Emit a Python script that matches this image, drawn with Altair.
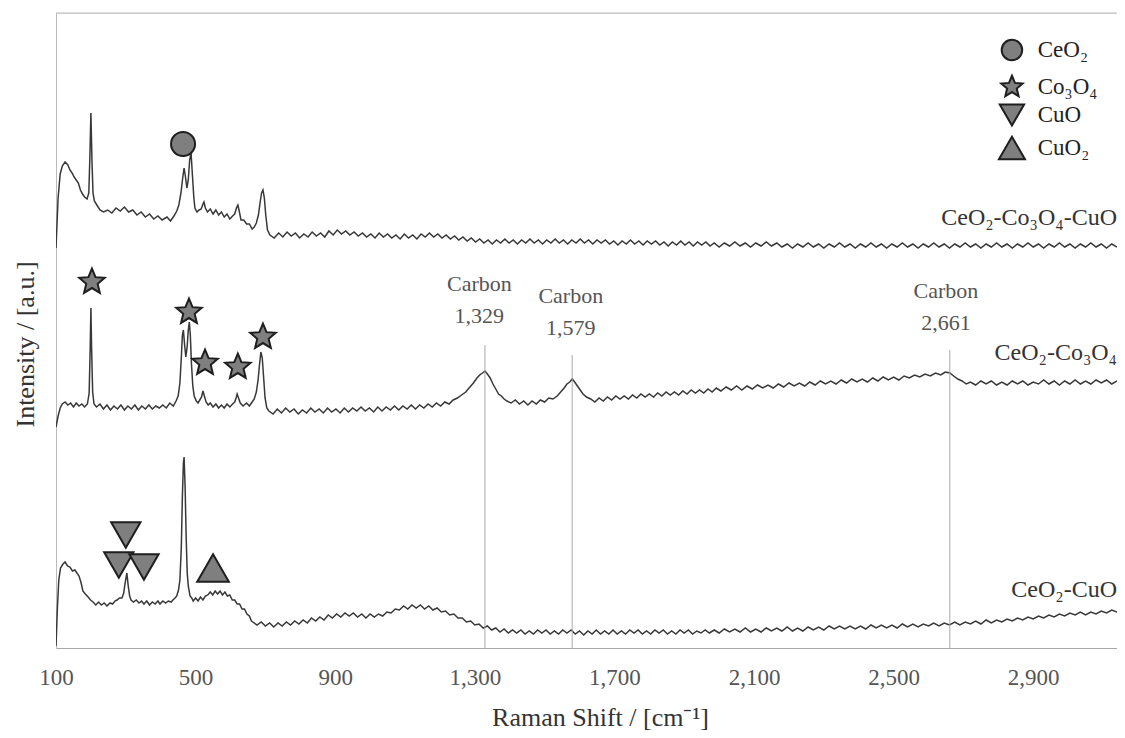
import altair as alt
import pandas as pd

FONT = "Liberation Serif"

series_names = ["CeO₂-Co₃O₄-CuO", "CeO₂-Co₃O₄", "CeO₂-CuO"]

top_pts = [[100,400],[106,450],[112,474],[118,482],[126,486],[134,483],[140,478],[146,475],[152,471],[158,468],[164,465],[170,458],[176,454],[182,451],[189,449],[194,455],[197,490],[200,535],[203,488],[206,455],[210,447],[217,443],[226,438],[236,436],[248,438],[260,435],[272,440],[284,437],[296,441],[308,436],[320,438],[332,433],[344,436],[356,431],[368,434],[380,429],[392,432],[404,428],[418,431],[428,427],[438,432],[446,437],[452,443],[458,455],[463,470],[467,480],[471,471],[475,460],[479,468],[483,488],[487,495],[491,472],[495,450],[498,440],[504,436],[510,438],[516,439],[520,443],[524,446],[528,440],[534,436],[542,439],[550,434],[558,438],[566,433],[574,436],[582,431],[590,434],[598,429],[606,432],[612,434],[617,440],[621,443],[625,437],[630,428],[638,428],[646,424],[654,424],[662,419],[668,421],[674,425],[680,433],[685,446],[689,455],[693,458],[697,450],[701,433],[706,418],[713,413],[725,410],[738,415],[750,411],[762,416],[774,412],[786,415],[798,410],[810,414],[822,411],[834,416],[846,412],[858,415],[870,411],[882,417],[894,413],[906,418],[918,414],[930,417],[942,413],[954,416],[966,412],[978,415],[990,411],[1002,414],[1014,410],[1026,415],[1038,411],[1050,414],[1062,410],[1074,413],[1086,409],[1098,414],[1110,410],[1122,413],[1134,409],[1146,414],[1158,411],[1170,415],[1182,411],[1194,414],[1206,410],[1218,413],[1230,409],[1242,412],[1254,408],[1266,411],[1278,407],[1290,410],[1302,406],[1314,409],[1326,405],[1338,408],[1350,404],[1362,408],[1374,405],[1386,409],[1398,405],[1410,408],[1422,404],[1434,408],[1446,405],[1458,409],[1470,405],[1482,408],[1494,404],[1506,408],[1518,405],[1530,409],[1542,405],[1554,408],[1566,404],[1578,408],[1590,405],[1602,409],[1614,405],[1626,408],[1638,404],[1650,408],[1662,405],[1674,408],[1686,404],[1698,407],[1710,403],[1722,407],[1734,404],[1746,408],[1758,404],[1770,407],[1782,403],[1794,407],[1806,404],[1818,407],[1830,403],[1842,406],[1854,402],[1866,406],[1878,403],[1890,407],[1902,403],[1914,406],[1926,402],[1938,406],[1950,403],[1962,406],[1974,402],[1986,405],[2000,401],[2015,405],[2030,402],[2045,406],[2060,402],[2075,405],[2090,401],[2105,405],[2120,402],[2135,406],[2150,402],[2165,405],[2180,401],[2195,404],[2210,400],[2225,404],[2240,401],[2255,405],[2270,401],[2285,404],[2300,400],[2315,404],[2330,401],[2345,405],[2360,401],[2375,404],[2390,400],[2405,404],[2420,401],[2435,405],[2450,401],[2465,404],[2480,400],[2495,404],[2510,401],[2525,405],[2540,401],[2555,404],[2570,400],[2585,404],[2600,401],[2615,405],[2630,401],[2645,404],[2660,400],[2675,404],[2690,401],[2705,405],[2720,401],[2735,404],[2750,400],[2765,404],[2780,401],[2795,405],[2810,401],[2825,404],[2840,400],[2855,404],[2870,401],[2885,405],[2900,401],[2915,404],[2930,400],[2945,404],[2960,401],[2975,405],[2990,401],[3005,404],[3020,400],[3035,404],[3050,401],[3065,405],[3080,401],[3095,404],[3110,400],[3125,404],[3140,401]]

mid_pts = [[100,221],[106,232],[112,240],[118,244],[126,246],[134,243],[142,245],[150,241],[158,245],[166,242],[174,244],[182,241],[190,244],[195,255],[198,300],[200,340],[202,300],[205,256],[209,244],[216,241],[226,244],[236,239],[246,243],[256,238],[266,242],[276,239],[286,243],[296,238],[306,242],[316,239],[326,243],[336,238],[346,242],[356,239],[366,243],[376,239],[386,242],[396,240],[406,243],[416,240],[426,245],[436,242],[444,247],[450,252],[455,265],[459,290],[462,312],[465,318],[468,305],[472,291],[476,302],[479,318],[482,326],[485,312],[488,285],[492,262],[496,252],[502,247],[507,245],[512,248],[517,251],[521,257],[525,252],[530,246],[536,243],[542,245],[550,241],[558,244],[566,240],[574,243],[582,240],[590,244],[598,241],[606,244],[612,246],[616,250],[619,254],[623,250],[628,245],[636,242],[646,245],[654,242],[662,246],[668,249],[674,256],[679,268],[683,283],[687,296],[691,290],[695,270],[699,250],[704,240],[710,237],[722,234],[734,239],[746,235],[758,240],[770,236],[782,239],[794,234],[806,238],[818,235],[830,240],[842,236],[854,239],[866,235],[878,240],[890,236],[902,239],[914,235],[926,240],[938,236],[950,240],[962,237],[974,241],[986,237],[998,240],[1010,236],[1022,241],[1034,237],[1046,241],[1058,238],[1070,242],[1082,238],[1094,242],[1106,239],[1118,243],[1130,239],[1142,243],[1154,240],[1166,244],[1178,241],[1190,245],[1202,242],[1214,246],[1226,244],[1238,248],[1250,250],[1262,253],[1274,256],[1286,261],[1296,265],[1306,270],[1314,273],[1322,275],[1329,277],[1336,274],[1344,270],[1352,264],[1360,259],[1368,254],[1376,252],[1384,249],[1392,247],[1404,245],[1416,248],[1428,244],[1440,247],[1452,243],[1464,247],[1476,244],[1488,248],[1500,246],[1512,250],[1524,249],[1536,252],[1546,256],[1556,260],[1564,264],[1572,266],[1579,269],[1586,266],[1594,262],[1602,258],[1610,254],[1620,251],[1632,249],[1644,246],[1656,250],[1668,247],[1680,251],[1692,248],[1704,252],[1716,249],[1728,252],[1740,249],[1752,253],[1764,250],[1776,254],[1788,251],[1800,254],[1812,251],[1824,255],[1836,252],[1848,256],[1860,253],[1872,256],[1884,253],[1896,257],[1908,254],[1920,258],[1932,255],[1944,258],[1956,255],[1968,259],[1980,256],[1992,260],[2005,257],[2020,261],[2035,258],[2050,262],[2065,258],[2080,262],[2095,259],[2110,263],[2125,260],[2140,263],[2155,260],[2170,264],[2185,261],[2200,265],[2215,262],[2230,265],[2245,262],[2260,266],[2275,263],[2290,267],[2305,264],[2320,267],[2335,264],[2350,268],[2365,265],[2380,269],[2395,266],[2410,269],[2425,266],[2440,270],[2455,267],[2470,271],[2485,268],[2500,271],[2515,268],[2530,272],[2545,270],[2560,273],[2575,271],[2590,274],[2605,272],[2620,275],[2635,273],[2648,276],[2661,275],[2672,272],[2684,269],[2696,267],[2708,264],[2720,266],[2735,263],[2750,267],[2765,264],[2780,267],[2795,263],[2810,266],[2825,263],[2840,267],[2855,264],[2870,267],[2885,263],[2900,266],[2915,264],[2930,268],[2945,264],[2960,267],[2975,263],[2990,267],[3005,264],[3020,268],[3035,264],[3050,267],[3065,264],[3080,268],[3095,265],[3110,268],[3125,264],[3140,267]]

bot_pts = [[100,2],[104,40],[108,68],[113,80],[120,84],[126,86],[133,82],[140,81],[147,77],[154,78],[160,75],[166,72],[172,65],[177,57],[184,54],[192,51],[199,48],[206,46],[214,43],[222,46],[230,43],[238,45],[246,42],[255,45],[262,44],[269,47],[275,48],[282,50],[289,50],[294,55],[298,65],[303,75],[307,62],[311,52],[315,48],[322,46],[330,48],[338,45],[345,47],[352,44],[360,47],[368,43],[376,46],[384,44],[392,47],[398,44],[406,47],[414,45],[422,47],[430,46],[435,48],[441,50],[446,52],[451,58],[455,68],[459,100],[462,150],[465,185],[467,191],[470,160],[473,110],[476,75],[479,62],[484,52],[489,50],[493,47],[500,50],[507,47],[514,51],[521,48],[528,52],[535,53],[542,56],[549,53],[556,57],[563,54],[570,57],[577,53],[584,56],[591,52],[598,53],[605,48],[612,48],[619,44],[626,44],[633,39],[640,39],[647,34],[654,32],[660,27],[664,26],[676,23],[688,26],[700,22],[712,25],[724,21],[736,25],[748,22],[760,26],[772,23],[784,27],[796,24],[808,28],[820,25],[832,30],[844,27],[856,31],[868,28],[880,33],[892,30],[904,34],[916,31],[928,35],[940,32],[952,35],[964,31],[976,34],[988,30],[1000,34],[1012,31],[1024,34],[1036,32],[1048,36],[1060,35],[1072,39],[1084,38],[1096,42],[1108,39],[1120,43],[1132,40],[1144,43],[1156,39],[1168,42],[1180,38],[1192,40],[1204,36],[1216,37],[1228,33],[1240,34],[1252,30],[1264,30],[1276,26],[1288,27],[1300,23],[1312,24],[1324,20],[1336,22],[1348,18],[1360,20],[1372,16],[1384,19],[1396,15],[1408,18],[1420,15],[1432,18],[1444,14],[1456,17],[1468,14],[1480,18],[1492,15],[1504,18],[1516,14],[1528,17],[1540,14],[1552,18],[1564,15],[1576,18],[1588,14],[1600,17],[1612,13],[1624,17],[1636,14],[1648,18],[1660,14],[1672,17],[1684,14],[1696,18],[1708,14],[1720,17],[1732,14],[1744,18],[1756,15],[1768,18],[1780,14],[1792,17],[1804,14],[1816,18],[1828,15],[1840,18],[1852,14],[1864,17],[1876,14],[1888,18],[1900,15],[1912,18],[1924,14],[1936,17],[1948,15],[1960,18],[1972,15],[1986,18],[2000,15],[2015,19],[2030,16],[2045,19],[2060,16],[2075,20],[2090,16],[2105,19],[2120,16],[2135,20],[2150,17],[2165,20],[2180,17],[2195,21],[2210,17],[2225,20],[2240,17],[2255,21],[2270,18],[2285,21],[2300,18],[2315,22],[2330,19],[2345,22],[2360,19],[2375,22],[2390,19],[2405,22],[2420,19],[2435,23],[2450,20],[2465,23],[2480,20],[2495,23],[2510,20],[2525,24],[2540,21],[2555,24],[2570,21],[2585,24],[2600,22],[2615,25],[2630,22],[2645,25],[2660,23],[2675,26],[2690,23],[2705,26],[2720,24],[2735,27],[2750,24],[2765,28],[2780,25],[2795,28],[2810,26],[2825,29],[2840,27],[2855,30],[2870,28],[2885,31],[2900,29],[2915,32],[2930,30],[2945,33],[2960,31],[2975,34],[2990,32],[3005,35],[3020,33],[3035,36],[3050,33],[3065,36],[3080,34],[3095,37],[3110,35],[3125,38],[3140,36]]

x_ticks = [100, 500, 900, 1300, 1700, 2100, 2500, 2900]

# series labels
label_x = [3140, 3140, 3140]
label_y = [430, 295, 58]

# carbon annotations
carbon_x = [1329, 1579, 2661]
carbon_top = [303, 293, 298]
carbon_numbers = ["1,329", "1,579", "2,661"]
carbon_text_x = [1313, 1575, 2650]
carbon_word_y = [364, 352, 357]
carbon_num_y = [332, 320, 325]

# phase markers
phase_names = ["CeO₂", "Co₃O₄", "CuO", "CuO₂"]
marker_phase = ["CeO₂", "Co₃O₄", "Co₃O₄", "Co₃O₄", "Co₃O₄", "Co₃O₄", "CuO", "CuO", "CuO", "CuO₂"]
marker_x = [464, 203, 481, 527, 621, 693, 300, 280, 352, 550]
marker_y = [504, 366, 336, 285, 281, 311, 113, 83, 81, 80]

# key (legend) rows, placed in the upper right of the plot
key_symbol_x = 2839
key_text_x = 2913
key_y = [598, 561, 533, 500]

STAR = ("M0,-1L0.265,-0.364L0.951,-0.309L0.428,0.139L0.588,0.809L0,0.45"
        "L-0.588,0.809L-0.428,0.139L-0.951,-0.309L-0.265,-0.364Z")

rows = []
for name, pts in zip(series_names, [top_pts, mid_pts, bot_pts]):
    for i, (x, y) in enumerate(pts):
        rows.append({"series": name, "i": i, "x": x, "y": y})
spec_df = pd.DataFrame(rows)

W, H = 1061, 635
xscale = alt.Scale(domain=[100, 3140], nice=False, zero=False)
yscale = alt.Scale(domain=[0, 635], nice=False, zero=False)
shape_scale = alt.Scale(domain=phase_names, range=["circle", STAR, "triangle-down", "triangle-up"])
size_scale = alt.Scale(domain=phase_names, range=[576, 1000, 800, 800])
key_size_scale = alt.Scale(domain=phase_names, range=[420, 680, 460, 460])

xaxis = alt.Axis(orient="bottom", values=x_ticks, format=",d", grid=False, ticks=False,
                 domainColor="#a8a8a8", labelFont=FONT, labelFontSize=23, labelColor="#555555",
                 labelPadding=18, labelFlush=False, title="Raman Shift / [cm⁻¹]", titleFont=FONT,
                 titleFontSize=26, titleFontWeight="normal", titleColor="#333333",
                 titleX=544, titleY=77, titleAlign="center", titleBaseline="alphabetic")
yaxis = alt.Axis(orient="left", labels=False, ticks=False, grid=False, domainColor="#bbbbbb",
                 title="Intensity / [a.u.]", titleFont=FONT, titleFontSize=26,
                 titleFontWeight="normal", titleColor="#333333", titleX=-31, titleY=331,
                 titleAngle=270, titleAlign="center", titleBaseline="middle")

lines = alt.Chart(spec_df).mark_line(color="#383838", strokeWidth=1.5, clip=True).encode(
    x=alt.X("x:Q", scale=xscale, axis=xaxis),
    y=alt.Y("y:Q", scale=yscale, axis=yaxis),
    detail="series:N",
    order="i:Q",
)

carbon_df = pd.DataFrame({"x": carbon_x, "y0": [0, 0, 0], "y1": carbon_top})
carbon_rules = alt.Chart(carbon_df).mark_rule(color="#aaaaaa", strokeWidth=1).encode(
    x="x:Q", y="y0:Q", y2="y1:Q")

ctext_df = pd.DataFrame({
    "x": carbon_text_x + carbon_text_x,
    "y": carbon_word_y + carbon_num_y,
    "t": ["Carbon"] * 3 + carbon_numbers,
})
carbon_text = alt.Chart(ctext_df).mark_text(font=FONT, fontSize=22, color="#555555",
                                            align="center", baseline="middle").encode(
    x="x:Q", y="y:Q", text="t:N")

lab_df = pd.DataFrame({"x": label_x, "y": label_y, "t": series_names})
labels = alt.Chart(lab_df).mark_text(font=FONT, fontSize=24, color="#333333",
                                     align="right", baseline="middle").encode(
    x="x:Q", y="y:Q", text="t:N")

mk_df = pd.DataFrame({"phase": marker_phase, "kind": marker_phase, "x": marker_x, "y": marker_y})
markers = alt.Chart(mk_df).mark_point(filled=True, fill="#7f7f7f", stroke="#1e1e1e",
                                      strokeWidth=2, opacity=1).encode(
    x="x:Q", y="y:Q",
    shape=alt.Shape("phase:N", scale=shape_scale, legend=None),
    size=alt.Size("kind:O", scale=size_scale, legend=None),
)

key_df = pd.DataFrame({"phase": phase_names, "kind": phase_names,
                       "x": [key_symbol_x] * 4, "tx": [key_text_x] * 4, "y": key_y})
key_symbols = alt.Chart(key_df).mark_point(filled=True, fill="#7f7f7f", stroke="#1e1e1e",
                                           strokeWidth=2, opacity=1).encode(
    x="x:Q", y="y:Q",
    shape=alt.Shape("phase:N", scale=shape_scale, legend=None),
    size=alt.Size("kind:O", scale=key_size_scale, legend=None),
)
key_labels = alt.Chart(key_df).mark_text(font=FONT, fontSize=23, color="#222222",
                                         align="left", baseline="middle").encode(
    x="tx:Q", y="y:Q", text="phase:N")

top_border = alt.Chart(pd.DataFrame({"v": [0]})).mark_rule(color="#bbbbbb", strokeWidth=1).encode(
    x=alt.value(0), x2=alt.value(W), y=alt.value(0))

chart = alt.layer(lines, carbon_rules, carbon_text, labels, markers,
                  key_symbols, key_labels, top_border).resolve_scale(
    size="independent"
).properties(
    width=W, height=H,
    autosize=alt.AutoSizeParams(type="none"),
    padding={"left": 48, "top": 5, "right": 0, "bottom": 84},
).configure_view(stroke=None).configure(background="white")

chart.save("out.html", embed_options={"renderer": "svg", "actions": False})
